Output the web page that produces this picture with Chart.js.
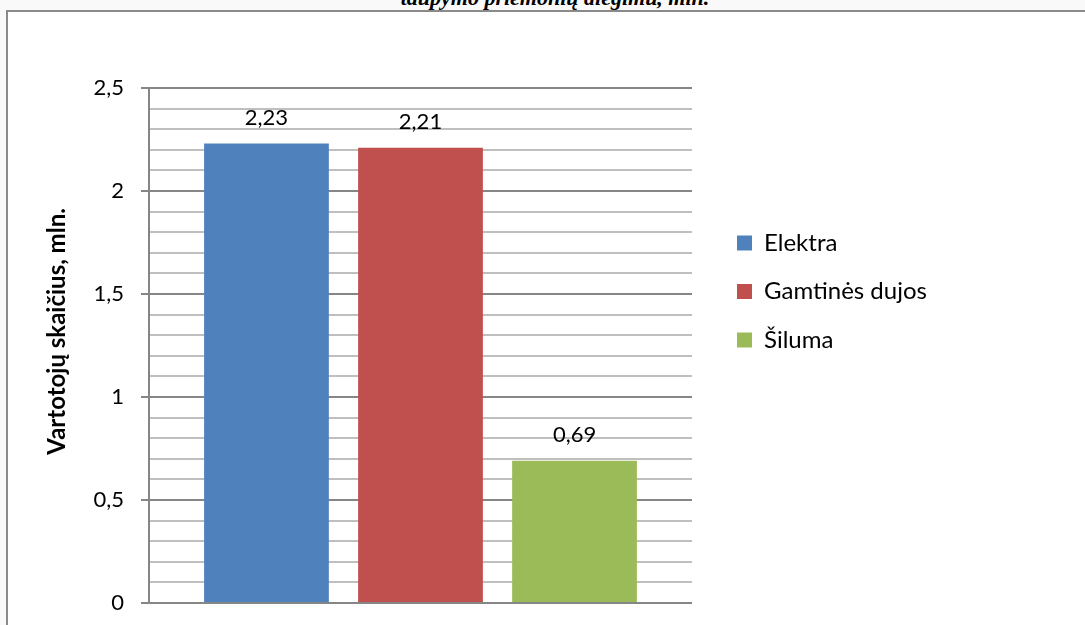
<!DOCTYPE html>
<html lang="lt">
<head>
<meta charset="utf-8">
<title>Vartotojų skaičius</title>
<script src="https://cdn.jsdelivr.net/npm/chart.js@4.4.1/dist/chart.umd.min.js"></script>
<style>
  html, body { margin: 0; padding: 0; overflow: hidden; background: #f9f9f9; width: 1085px; height: 625px; }
  #frame { position: absolute; left: 6px; top: 10px; width: 1200px; height: 700px; background: #ffffff;
           border-top: 2px solid #8a8a8a; border-left: 2px solid #8a8a8a; }
  #ftitle { position: absolute; left: 0; top: -15px; width: 1110px; text-align: center;
            font: bold italic 22px "Liberation Serif", serif; line-height: 26px; color: #000; white-space: nowrap; }
  #wrap { position: absolute; left: 0; top: 0; width: 1085px; height: 625px; }
</style>
</head>
<body>
<div id="frame"></div>
<div id="ftitle">taupymo priemonių diegimu, mln.</div>
<div id="wrap"><canvas id="c" width="1085" height="625"></canvas></div>
<script>
// ---- data ----
const categories = [''];
const seriesNames = ['Elektra', 'Gamtinės dujos', 'Šiluma'];
const elektraValues = [2.23];
const dujosValues = [2.21];
const silumaValues = [0.69];
const yTickLabels = ['0', '0,5', '1', '1,5', '2', '2,5'];
const yAxisTitle = 'Vartotojų skaičius, mln.';

// ---- styles ----
const seriesColors = ['#4F81BD', '#C0504D', '#9BBB59'];
const FONT = 'Lato';
const FS = 22;      // ticks and value labels
const LFS = 24;     // legend
const TFS = 24;     // axis title

const seriesValues = [elektraValues, dujosValues, silumaValues];

function isMajor(v) { return Math.round(v * 10) % 5 === 0; }
function fmt(v) { return v.toFixed(2).replace('.', ','); }

// legend width to place chart area
const mctx = document.createElement('canvas').getContext('2d');
mctx.font = LFS + 'px ' + FONT;
const maxTextW = Math.max(...seriesNames.map(n => mctx.measureText(n).width));
const LEG_PAD = 24.5, BOX = 15, GAP_AXIS = 20.5;
const legendW = LEG_PAD + BOX + LFS / 2 + maxTextW + 10;
const padRight = (1085 - 149 - 543 - GAP_AXIS) - legendW;

const valueLabels = {
  id: 'valueLabels',
  afterDatasetsDraw(chart) {
    const ctx = chart.ctx;
    ctx.save();
    ctx.font = FS + 'px ' + FONT;
    ctx.fillStyle = '#000';
    ctx.textAlign = 'center';
    ctx.textBaseline = 'alphabetic';
    chart.data.datasets.forEach((ds, i) => {
      const meta = chart.getDatasetMeta(i);
      meta.data.forEach((bar, j) => {
        ctx.fillText(fmt(ds.data[j]), bar.x, bar.y - 18.5);
      });
    });
    ctx.restore();
  }
};

Chart.defaults.font.family = FONT;
Chart.defaults.font.size = FS;
Chart.defaults.color = '#000';

new Chart(document.getElementById('c'), {
  type: 'bar',
  data: {
    labels: categories,
    datasets: seriesNames.map((name, i) => ({
      label: name,
      data: seriesValues[i],
      backgroundColor: seriesColors[i],
      borderWidth: 0,
      categoryPercentage: 0.851,
      barPercentage: 0.81
    }))
  },
  options: {
    responsive: false,
    animation: false,
    layout: { padding: { left: 0, top: 88, bottom: 22, right: padRight } },
    plugins: {
      tooltip: { enabled: false },
      legend: {
        position: 'right',
        align: 'start',
        title: { display: true, text: '', font: { size: 10 }, padding: { top: 106.5, bottom: 0 } },
        labels: {
          boxWidth: BOX, boxHeight: BOX, padding: LEG_PAD,
          font: { size: LFS, family: FONT }, color: '#000'
        }
      }
    },
    scales: {
      x: { display: false },
      y: {
        min: 0, max: 2.5,
        afterFit(s) { s.width = 149; s.paddingTop = 0; s.paddingBottom = 0; },
        ticks: {
          stepSize: 0.1, autoSkip: false, padding: 17,
          font: { size: FS, family: FONT }, color: '#000',
          callback(v) { const k = Math.round(v * 10); return k % 5 === 0 ? yTickLabels[k / 5] : ''; }
        },
        grid: {
          lineWidth: 2,
          tickLength: 8,
          color: c => isMajor(c.tick.value) ? '#868686' : '#BFBFBF',
          tickColor: c => isMajor(c.tick.value) ? '#868686' : 'rgba(0,0,0,0)',
          tickWidth: 2
        },
        border: { display: true, color: '#868686', width: 2 },
        title: {
          display: true,
          text: '\u00a0\u00a0\u00a0\u00a0\u00a0' + yAxisTitle,
          font: { size: TFS, weight: 'bold', family: FONT },
          color: '#000',
          padding: { top: 43, bottom: 0 }
        }
      },
      y2: {
        type: 'linear',
        position: 'right',
        display: false,
        afterFit(s) { s.width = GAP_AXIS; }
      }
    }
  },
  plugins: [valueLabels]
});
</script>
</body>
</html>
